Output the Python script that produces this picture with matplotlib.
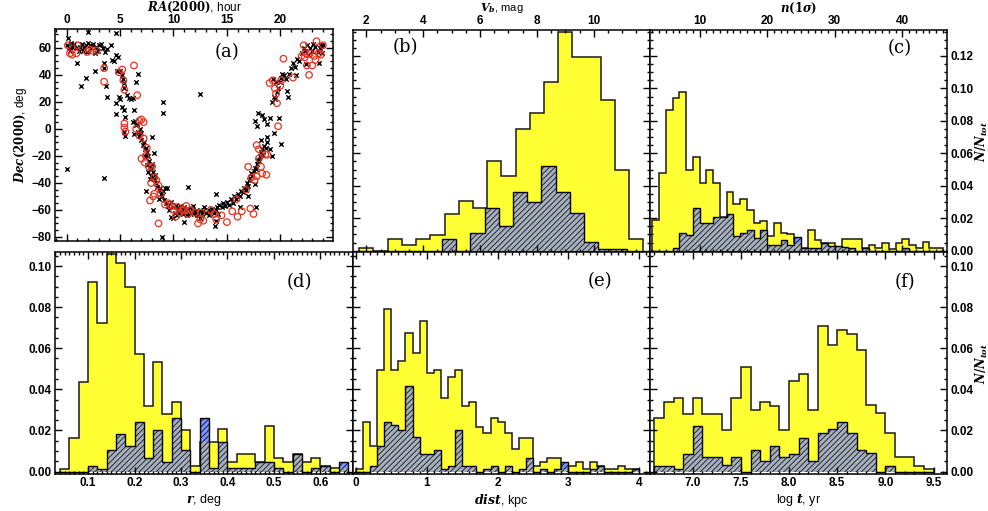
import numpy as np
import matplotlib
matplotlib.use('Agg')
import matplotlib.pyplot as plt
from matplotlib.ticker import MultipleLocator, FormatStrFormatter

plt.rcParams['font.family'] = ['Liberation Sans', 'DejaVu Sans']
plt.rcParams['font.weight'] = 'bold'
plt.rcParams['mathtext.fontset'] = 'dejavuserif'
plt.rcParams['hatch.linewidth'] = 0.7

# ---- panel (a): positions of clusters, RA hour / Dec deg
ra_x = [0.0, 0.1, 0.2, 0.3, 0.5, 0.7, 0.9, 1.1, 1.2, 1.4, 1.6, 1.8, 1.9, 2.0, 2.2, 2.3, 2.5, 2.7, 2.9, 3.0,
        3.2, 3.4, 3.6, 3.8, 4.1, 2.6, 1.5, 0.4,
        1.0, 1.3, 1.8, 2.6, 3.5, 3.5, 0.0, 3.5, 4.6, 2.0,
        4.2, 4.4, 4.6, 4.8, 4.7, 5.0, 5.2, 5.3, 5.4, 5.4, 4.6, 4.6, 4.9, 5.0, 5.2, 5.4, 5.5, 5.4, 5.5, 5.6,
        5.8, 6.0, 6.2, 6.3, 6.2, 6.4, 6.5, 6.6, 6.7, 6.8, 6.5, 6.7, 6.9, 7.0, 6.3, 3.7, 3.8,
        7.0, 7.1, 7.2, 7.3, 7.4, 7.5, 7.3, 7.6, 7.7, 7.5, 7.8, 7.9, 8.0, 8.1, 7.6, 7.9, 8.2, 8.3, 8.4, 8.5,
        8.6, 8.7, 8.8, 8.9, 9.0, 8.3, 8.0, 7.4, 8.1, 8.6, 9.1, 9.2, 9.4, 7.8, 8.9, 9.0, 9.0, 8.2,
        9.3, 9.5, 9.6, 9.8, 10.0, 10.1, 10.2, 10.4, 10.5, 10.6, 10.8, 10.9, 11.0, 11.2, 11.3, 11.4, 11.6,
        11.7, 11.9, 12.0, 12.2, 12.3, 12.5, 12.7, 12.8, 13.0, 13.2, 13.3, 13.5, 13.6, 13.8, 14.0, 14.1,
        14.2, 14.3, 14.5, 14.6, 14.8, 10.0, 11.0, 12.5, 13.9, 14.0, 11.4, 14.0, 12.5, 9.8, 10.3, 12.9, 11.8,
        15.0, 15.2, 15.4, 15.6, 15.7, 15.9, 16.0, 16.2, 16.3, 16.5, 16.6, 16.8, 16.9, 17.0, 17.1, 17.2,
        17.3, 17.4, 17.5, 17.6, 17.7, 17.8, 17.9, 18.0, 18.1, 18.2, 18.3, 18.4, 18.5, 18.7, 16.2, 17.0,
        17.7, 18.2, 17.6,
        18.8, 19.0, 19.2, 18.8, 17.6, 17.8, 17.9, 18.3, 18.5, 18.8, 19.0, 19.4, 19.2, 19.4, 19.5, 19.7,
        19.8, 19.6, 19.9, 20.0, 20.1, 20.2, 20.4, 20.5, 20.6, 20.7, 20.1, 19.3,
        20.8, 21.0, 21.2, 21.4, 21.6, 21.8, 22.0, 22.2, 22.3, 22.5, 22.6, 22.8, 23.0, 23.1, 23.3, 23.5,
        23.7, 23.8, 23.9, 24.0, 23.6, 21.5, 22.4]
dec_x = [62, 67, 60, 58, 61, 63, 60, 58, 61, 63, 60, 62, 57, 64, 62, 60, 63, 61, 58, 62,
         63, 60, 57, 59, 62, 56, 58, 64,
         49, 32, 38, 43, 49, 45, -30, -36, 71, 72,
         51, 50, 55, 53, 43, 43, 40, 37, 34, 30, 19, 11, 24, 22, 16, 14, 9, -2, -5, 25,
         23, 22, 23, 14, 5, 6, 3, 4, -2, -5, 35, 41, 0, -3, -4, 32, 24,
         -8, -12, -10, -15, -14, -17, -20, -20, -24, -27, -28, -30, -26, -32, -32, -35, -36, -38, -40, -43,
         -45, -44, -48, -50, -46, -34, -6, -46, -60, -52, -53, -44, -44, -37, -80, 20, 12, -18,
         -55, -57, -60, -54, -58, -62, -56, -59, -62, -57, -60, -63, -58, -61, -64, -59, -62,
         -60, -63, -61, -64, -62, -60, -63, -61, -62, -60, -64, -61, -59, -62, -60, -58,
         -63, -56, -58, -55, -57, -66, -69, -66, -72, -68, -43, -48, 26, -65, -64, -58, -57,
         -54, -56, -52, -55, -50, -52, -48, -50, -46, -47, -44, -45, -40, -42, -38, -36,
         -33, -35, -31, -29, -30, -26, -23, -24, -20, -17, -15, -19, -13, -14, -58, -50,
         -58, -8, -41,
         -10, -15, -20, -6, 6, 2, 12, 10, 7, 4, 8, -3, 20, 24, 22, 27,
         30, 35, 8, 35, 38, 41, 40, 37, 28, 24, -11, 37,
         41, 45, 49, 46, 52, 50, 56, 60, 58, 62, 55, 60, 58, 63, 61, 57,
         60, 62, 56, 62, 49, 40, 48]

ra_o = [0.1, 0.3, 0.5, 0.9, 1.0, 1.9, 2.1, 2.4, 2.8, 3.5, 3.5, 4.9, 5.2, 5.3, 5.4, 6.3, 6.6, 5.4, 5.4,
        5.5, 6.5, 6.8, 7.0, 7.2, 6.8, 7.2, 7.5, 7.4, 7.0, 7.3, 7.7, 8.0, 7.9, 8.2, 8.4, 8.6, 8.1, 7.8,
        8.2, 8.8, 8.6, 9.2, 9.5, 9.8, 10.0, 10.2, 10.4, 10.6, 10.8, 11.0, 11.2, 11.4, 11.6, 12.0, 12.3,
        12.5, 12.6, 12.8, 13.5, 13.8, 14.0, 14.5, 15.0, 15.5, 15.9, 16.0, 16.4, 16.8, 17.2, 17.5, 17.0,
        17.3, 17.8, 17.6, 18.0, 18.2, 18.3, 18.6, 18.8, 18.7, 17.8, 18.0, 19.0, 19.3, 19.5, 19.6, 19.7,
        19.8, 20.0, 20.1, 20.3, 21.2, 22.2, 22.0, 22.3, 22.5, 22.8, 22.7, 23.0, 23.2, 23.4, 23.6, 23.8,
        24.0, 22.4, 23.3]
dec_o = [62, 56, 55, 56, 62, 57, 59, 58, 58, 45, 35, 42, 44, 36, 29, 47, 25, 4, 1,
         -2, 0, 6, 7, 5, -5, -7, -14, -20, -22, -25, -28, -28, -40, -36, -38, -42, -50, -53,
         -48, -48, -70, -56, -55, -57, -60, -65, -58, -62, -60, -60, -57, -63, -60, -62, -70,
         -67, -62, -68, -60, -63, -67, -64, -69, -61, -52, -65, -61, -45, -59, -63, -28,
         -36, -35, -38, -22, -28, -33, -19, -19, -34, -12, -15, 34, 36, 30, 26, 19,
         2, 32, 36, 52, 38, 62, 54, 53, 47, 56, 40, 47, 54, 65, 56, 55,
         62, 56, 51]

# ---- panel (b): V_b, mag
vb_edges = 1.75 + 0.5 * np.arange(21)
vb_all = [0.0014, 0.0, 0.0072, 0.0035, 0.0072, 0.0095, 0.0224, 0.0304, 0.0265, 0.0555,
          0.046, 0.075, 0.0847, 0.104, 0.135, 0.1196, 0.1196, 0.093, 0.0497, 0.0072]
vb_edges_sel = vb_edges - 0.09
vb_sel = [0, 0, 0, 0, 0, 0, 0.007, 0, 0.011, 0.0265,
          0.0152, 0.036, 0.030, 0.052, 0.036, 0.023, 0.0053, 0.0012, 0.0012, 0]

# ---- panel (c): n(1 sigma)
n_edges = np.arange(3, 47)
n_all = [0.019, 0.048, 0.087, 0.094, 0.098, 0.050, 0.058, 0.042, 0.050, 0.042,
         0.021, 0.0364, 0.0288, 0.0316, 0.025, 0.0173, 0.0185, 0.009, 0.0173, 0.011,
         0.010, 0.005, 0.0014, 0.0127, 0.0066, 0.005, 0.005, 0.002, 0.007, 0.007,
         0.007, 0.0015, 0.0035, 0.0015, 0.005, 0.001, 0.005, 0.007, 0.0035, 0.0015,
         0.0053, 0.0015, 0.0015]
n_sel = [0, 0, 0, 0.0015, 0.011, 0.0097, 0.0265, 0.0173, 0.0173, 0.0205,
         0.0205, 0.0226, 0.009, 0.011, 0.0127, 0.0076, 0.0127, 0.0035, 0.0035, 0.0066,
         0.0035, 0.0086, 0.0014, 0.0014, 0.0014, 0.005, 0.003, 0.003, 0.002, 0.0014,
         0, 0.0014, 0, 0, 0, 0, 0, 0.0014, 0, 0,
         0, 0, 0]

# ---- panel (d): r, deg
r_edges = 0.04 + 0.02 * np.arange(32)
r_all = [0.0013, 0.0165, 0.0437, 0.092, 0.0725, 0.106, 0.1016, 0.090, 0.0574, 0.0319,
         0.0534, 0.028, 0.0338, 0.0203, 0.0029, 0.0146, 0.0146, 0.0205, 0.0048, 0.0085,
         0.0085, 0.0048, 0.0222, 0.0066, 0.0048, 0.0085, 0.0048, 0.0064, 0.0028, 0.0015, 0.0015]
r_sel = [0, 0, 0, 0.0027, 0.0011, 0.0105, 0.0183, 0.0125, 0.0243, 0.0064,
         0.0203, 0.0048, 0.026, 0.0105, 0, 0.026, 0.0015, 0.0146, 0.0015, 0.0015,
         0.0015, 0.0048, 0.0048, 0.0015, 0, 0.0085, 0, 0.0015, 0.0028, 0, 0.0048]

# ---- panel (e): dist, kpc
d_edges = 0.1 * np.arange(41)
d_all = [0.001, 0.0243, 0.0124, 0.0496, 0.0789, 0.0496, 0.0536, 0.0672, 0.0577, 0.0732,
         0.048, 0.0496, 0.036, 0.046, 0.0496, 0.0321, 0.034, 0.0219, 0.0187, 0.026,
         0.024, 0.0187, 0.011, 0.0165, 0.0165, 0.0027, 0.0048, 0.0068, 0.0068, 0.001,
         0.0027, 0.0048, 0.001, 0.0048, 0.0027, 0.001, 0.001, 0.0027, 0.001, 0.001]
d_sel = [0, 0, 0.0027, 0.0126, 0.0243, 0.0224, 0.0203, 0.0417, 0.0167, 0.0085,
         0.0085, 0.0105, 0.001, 0.0027, 0.0203, 0.0027, 0.0027, 0, 0.001, 0.0027,
         0, 0.0027, 0, 0.001, 0.0068, 0, 0.001, 0, 0.001, 0.0048,
         0, 0, 0, 0.001, 0.0027, 0, 0, 0, 0, 0.001]

# ---- panel (f): log t, yr
t_edges = 6.6 + 0.1 * np.arange(30)
t_all = [0.026, 0.0338, 0.0357, 0.0281, 0.0357, 0.0281, 0.0281, 0.0203, 0.0357, 0.051,
         0.030, 0.0338, 0.032, 0.0203, 0.0439, 0.0473, 0.030, 0.071, 0.0614, 0.0689,
         0.067, 0.0592, 0.0325, 0.0284, 0.0186, 0.0069, 0.0069, 0.0027, 0.001]
t_sel = [0.0027, 0.0027, 0.001, 0.0085, 0.0222, 0.0069, 0.0069, 0.0032, 0.0069, 0,
         0.0105, 0.0053, 0.0125, 0.0069, 0.0085, 0.0162, 0.0053, 0.0186, 0.0206, 0.0243,
         0.0186, 0.0105, 0.0089, 0, 0.0027, 0, 0, 0, 0]

YELLOW = '#ffff33'


def style(ax, xmaj, xmin, ymaj, ymin):
    ax.xaxis.set_major_locator(MultipleLocator(xmaj))
    ax.xaxis.set_minor_locator(MultipleLocator(xmin))
    ax.yaxis.set_major_locator(MultipleLocator(ymaj))
    ax.yaxis.set_minor_locator(MultipleLocator(ymin))
    ax.tick_params(which='both', direction='in', top=True, right=True,
                   labelsize=8.5, width=1, pad=2.5)
    ax.tick_params(which='major', length=5)
    ax.tick_params(which='minor', length=2.5)
    for s in ax.spines.values():
        s.set_linewidth(1.1)


def hist(ax, e_all, v_all, e_sel, v_sel):
    ax.stairs(v_all, e_all, baseline=0, fill=True, facecolor=YELLOW, edgecolor='none')
    ax.stairs(v_all, e_all, baseline=0, color='#1a1a1a', lw=1.1)
    # hatched subsample: blue where it rises above the yellow, grey-blue over it
    ax.stairs(v_sel, e_sel, baseline=0, fill=True, facecolor='#7c93ff',
              edgecolor='#1c1c3a', hatch='//////', lw=0)
    if np.array_equal(e_all, e_sel):
        low = np.minimum(v_sel, v_all)
    else:
        low = v_sel
    ax.stairs(low, e_sel, baseline=0, fill=True, facecolor='#a6b0bf',
              edgecolor='#2a2a2a', hatch='//////', lw=0)
    ax.stairs(v_sel, e_sel, baseline=0, color='black', lw=1.0)


def plabel(ax, s, x, y):
    ax.text(x, y, s, transform=ax.transAxes, ha='center', va='center',
            fontsize=13, fontweight='normal', family='DejaVu Serif', zorder=5)


fig = plt.figure(figsize=(9.88, 5.11), dpi=100)

ax_a = fig.add_axes([0.0557, 0.5284, 0.2814, 0.4148])
ax_b = fig.add_axes([0.3573, 0.5068, 0.3006, 0.4345])
ax_c = fig.add_axes([0.6579, 0.5068, 0.3006, 0.4345])
ax_d = fig.add_axes([0.0557, 0.0724, 0.3016, 0.4344])
ax_e = fig.add_axes([0.3573, 0.0724, 0.3006, 0.4344])
ax_f = fig.add_axes([0.6579, 0.0724, 0.3006, 0.4344])

# (a)
ax_a.scatter(ra_x, dec_x, marker='x', s=10, c='black', linewidths=1.0)
ax_a.scatter(ra_o, dec_o, marker='o', s=22, facecolors='none', edgecolors='#e8321e', linewidths=0.9)
ax_a.set_xlim(-1.1, 24.95)
ax_a.set_ylim(-83, 74)
style(ax_a, 5, 1, 20, 5)
ax_a.tick_params(labeltop=True, labelbottom=False)
ax_a.xaxis.set_label_position('top')
ax_a.set_xlabel(r'$RA(2000)$, hour', fontsize=8.5, labelpad=2)
ax_a.set_ylabel(r'$Dec(2000)$, deg', fontsize=8.5, labelpad=2)
plabel(ax_a, '(a)', 0.62, 0.89)

top_ylim = (-0.0008, 0.136)
bot_ylim = (-0.0012, 0.1068)

# (b)
hist(ax_b, vb_edges, vb_all, vb_edges_sel, vb_sel)
ax_b.set_xlim(1.53, 11.98)
ax_b.set_ylim(*top_ylim)
style(ax_b, 2, 0.5, 0.02, 0.005)
ax_b.tick_params(labeltop=True, labelbottom=False, labelleft=False)
ax_b.xaxis.set_label_position('top')
ax_b.set_xlabel(r'$V_b$, mag', fontsize=8, labelpad=2.5)
plabel(ax_b, '(b)', 0.175, 0.925)

# (c)
hist(ax_c, n_edges, n_all, n_edges, n_sel)
ax_c.set_xlim(2.66, 46.6)
ax_c.set_ylim(*top_ylim)
style(ax_c, 10, 1, 0.02, 0.005)
ax_c.tick_params(labeltop=True, labelbottom=False, labelleft=False, labelright=True)
ax_c.xaxis.set_label_position('top')
ax_c.set_xlabel(r'$n(1\sigma)$', fontsize=8.5, labelpad=2)
ax_c.yaxis.set_label_position('right')
ax_c.set_ylabel(r'$N/N_{tot}$', fontsize=8.5, labelpad=0)
ax_c.yaxis.set_major_formatter(FormatStrFormatter('%.2f'))
plabel(ax_c, '(c)', 0.84, 0.92)

# (d)
hist(ax_d, r_edges, r_all, r_edges, r_sel)
ax_d.set_xlim(0.029, 0.67)
ax_d.set_ylim(*bot_ylim)
style(ax_d, 0.1, 0.01, 0.02, 0.005)
ax_d.yaxis.set_major_formatter(FormatStrFormatter('%.2f'))
ax_d.set_xlabel(r'$r$, deg', fontsize=9, labelpad=2)
plabel(ax_d, '(d)', 0.82, 0.865)

# (e)
hist(ax_e, d_edges, d_all, d_edges, d_sel)
ax_e.set_xlim(-0.04, 4.15)
ax_e.set_ylim(*bot_ylim)
style(ax_e, 1, 0.1, 0.02, 0.005)
ax_e.tick_params(labelleft=False)
ax_e.set_xlabel(r'$dist$, kpc', fontsize=9, labelpad=2)
plabel(ax_e, '(e)', 0.83, 0.87)

# (f)
hist(ax_f, t_edges, t_all, t_edges, t_sel)
ax_f.set_xlim(6.555, 9.64)
ax_f.set_ylim(*bot_ylim)
style(ax_f, 0.5, 0.1, 0.02, 0.005)
ax_f.tick_params(labelleft=False, labelright=True)
ax_f.yaxis.set_major_formatter(FormatStrFormatter('%.2f'))
ax_f.xaxis.set_major_formatter(FormatStrFormatter('%.1f'))
ax_f.yaxis.set_label_position('right')
ax_f.set_ylabel(r'$N/N_{tot}$', fontsize=8.5, labelpad=0)
ax_f.set_xlabel(r'log $t$, yr', fontsize=9, labelpad=2)
plabel(ax_f, '(f)', 0.86, 0.865)

fig.savefig('out.png', dpi=100)
